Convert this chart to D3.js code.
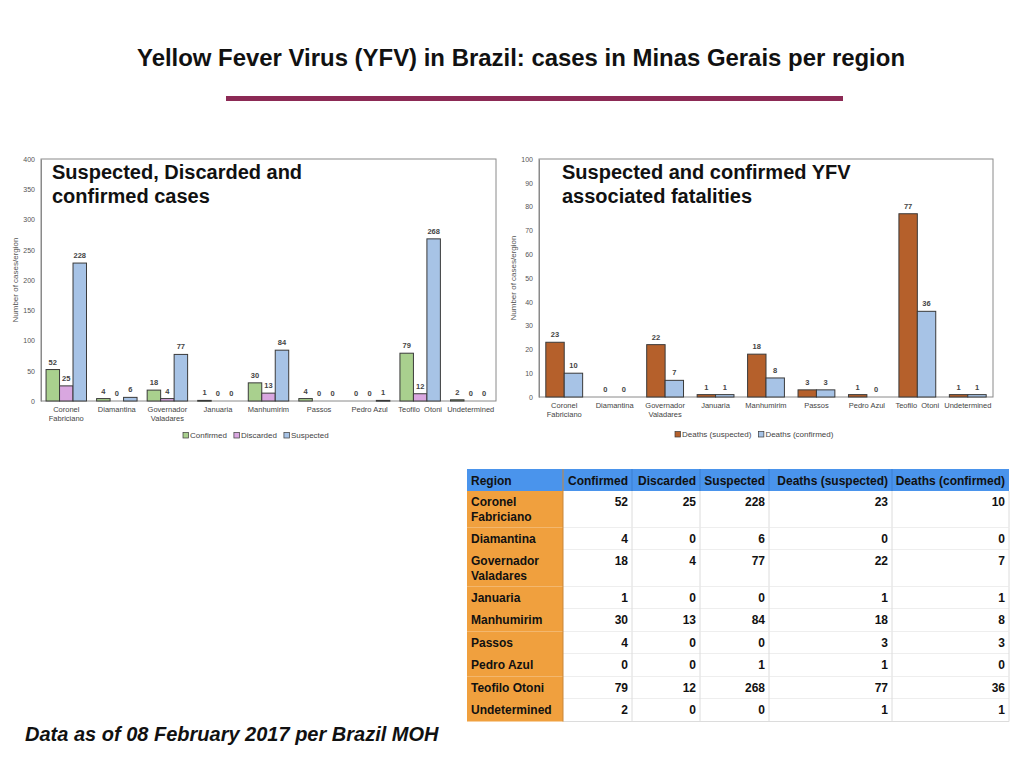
<!DOCTYPE html>
<html>
<head>
<meta charset="utf-8">
<script src="https://cdn.jsdelivr.net/npm/d3@7"></script>
<style>
  body { margin: 0; background: #fff; }
  svg { display: block; font-family: 'Liberation Sans', Arial, sans-serif; }
</style>
</head>
<body>
<div id="chart"></div>
<script>
// data
const regions = ['Coronel Fabriciano', 'Diamantina', 'Governador Valadares', 'Januaria',
  'Manhumirim', 'Passos', 'Pedro Azul', 'Teofilo Otoni', 'Undetermined']
const axisLabels = [['Coronel', 'Fabriciano'], ['Diamantina'], ['Governador', 'Valadares'], ['Januaria'],
  ['Manhumirim'], ['Passos'], ['Pedro Azul'], ['Teofilo  Otoni'], ['Undetermined']]
const confirmed = [52, 4, 18, 1, 30, 4, 0, 79, 2]
const discarded = [25, 0, 4, 0, 13, 0, 0, 12, 0]
const suspected = [228, 6, 77, 0, 84, 0, 1, 268, 0]
const deathsSuspected = [23, 0, 22, 1, 18, 3, 1, 77, 1]
const deathsConfirmed = [10, 0, 7, 1, 8, 3, 0, 36, 1]
const casesTicks = [0, 50, 100, 150, 200, 250, 300, 350, 400]
const deathTicks = [0, 10, 20, 30, 40, 50, 60, 70, 80, 90, 100]

const width = 1024
const height = 768

const svg = d3.select('#chart').append('svg')
  .attr('width', width)
  .attr('height', height)

// slide title + rule
svg.append('text')
  .attr('x', 137).attr('y', 66)
  .attr('textLength', 768).attr('lengthAdjust', 'spacingAndGlyphs')
  .style('font-size', '24px').style('font-weight', 'bold').style('fill', '#111')
  .text('Yellow Fever Virus (YFV) in Brazil: cases in Minas Gerais per region')

svg.append('rect')
  .attr('x', 226).attr('y', 96).attr('width', 617).attr('height', 5)
  .style('fill', '#8c2a55')

function drawBarChart (opts) {
  const g = svg.append('g')
  const x0 = d3.scaleBand().domain(regions).range([opts.left, opts.right])
    .paddingInner(opts.padding).paddingOuter(opts.padding / 2)
  const x1 = d3.scaleBand().domain(opts.series.map(s => s.name)).range([0, x0.bandwidth()])
  const y = d3.scaleLinear().domain([0, opts.max]).range([opts.bottom, opts.top])

  // frame
  g.append('rect')
    .attr('x', opts.left).attr('y', opts.top)
    .attr('width', opts.right - opts.left).attr('height', opts.bottom - opts.top)
    .style('fill', 'none').style('stroke', '#8a8a8a').style('stroke-width', 1)

  // y axis
  const yAxis = g.append('g')
    .attr('transform', `translate(${opts.left},0)`)
    .call(d3.axisLeft(y).tickValues(opts.ticks).tickSize(0).tickPadding(6))
  yAxis.select('.domain').style('stroke', '#8a8a8a')
  yAxis.selectAll('text').style('font-size', '7px').style('fill', '#555').style('font-family', 'Liberation Sans, Arial, sans-serif')

  g.append('text')
    .attr('transform', `translate(${opts.left - 23},${(opts.top + opts.bottom) / 2}) rotate(-90)`)
    .attr('text-anchor', 'middle')
    .style('font-size', '8px').style('fill', '#555')
    .text('Number of cases/ergion')

  // bars
  opts.series.forEach(s => {
    const items = regions.map((r, i) => ({ region: r, value: s.values[i] }))
    g.selectAll(null).data(items.filter(d => d.value > 0)).enter()
      .append('rect')
      .attr('x', d => x0(d.region) + x1(s.name))
      .attr('y', d => y(d.value))
      .attr('width', x1.bandwidth())
      .attr('height', d => Math.max(0.8, y(0) - y(d.value)))
      .style('fill', s.color)
      .style('stroke', '#3a3a3a').style('stroke-width', 1)

    g.selectAll(null).data(items).enter()
      .append('text')
      .attr('x', d => x0(d.region) + x1(s.name) + x1.bandwidth() / 2)
      .attr('y', d => y(d.value) - 5)
      .attr('text-anchor', 'middle')
      .style('font-size', '7.5px').style('font-weight', 'bold').style('fill', '#444')
      .text(d => d.value)
  })

  // x labels
  const lab = g.selectAll(null).data(regions).enter()
    .append('text')
    .attr('x', d => x0(d) + x0.bandwidth() / 2)
    .attr('y', opts.bottom + 11)
    .attr('text-anchor', 'middle')
    .style('font-size', '7.5px').style('fill', '#444')
  lab.each(function (d, i) {
    d3.select(this).selectAll('tspan').data(axisLabels[i]).enter()
      .append('tspan')
      .attr('x', x0(d) + x0.bandwidth() / 2)
      .attr('dy', (t, j) => j === 0 ? 0 : 9)
      .style('white-space', 'pre')
      .text(t => t)
  })

  // overlay title
  const t = g.append('text')
    .attr('x', opts.titleX).attr('y', opts.top + 20)
    .style('font-size', '20px').style('font-weight', 'bold').style('fill', '#111')
  opts.title.forEach((line, i) => {
    t.append('tspan').attr('x', opts.titleX).attr('dy', i === 0 ? 0 : 24).text(line)
  })

  // legend
  let lx = opts.legendX
  opts.series.forEach(s => {
    g.append('rect')
      .attr('x', lx).attr('y', opts.legendY - 5.5)
      .attr('width', 5.5).attr('height', 5.5)
      .style('fill', s.color).style('stroke', '#3a3a3a').style('stroke-width', 0.7)
    const txt = g.append('text')
      .attr('x', lx + 7).attr('y', opts.legendY)
      .style('font-size', '8px').style('fill', '#444')
      .text(s.name)
    lx += txt.node().getComputedTextLength() + 14
  })
}

drawBarChart({
  left: 41, right: 496, top: 159, bottom: 401,
  max: 400, ticks: casesTicks, padding: 0.2,
  series: [
    { name: 'Confirmed', values: confirmed, color: '#a9d08e' },
    { name: 'Discarded', values: discarded, color: '#d9a7e0' },
    { name: 'Suspected', values: suspected, color: '#a7c3e6' }
  ],
  title: ['Suspected, Discarded and', 'confirmed cases'],
  titleX: 52,
  legendX: 183, legendY: 438
})

drawBarChart({
  left: 539, right: 993, top: 159, bottom: 397,
  max: 100, ticks: deathTicks, padding: 0.27,
  series: [
    { name: 'Deaths (suspected)', values: deathsSuspected, color: '#b5602b' },
    { name: 'Deaths (confirmed)', values: deathsConfirmed, color: '#a7c3e6' }
  ],
  title: ['Suspected and confirmed YFV', 'associated fatalities'],
  titleX: 562,
  legendX: 675, legendY: 437
})

// summary table
const tableCols = ['Region', 'Confirmed', 'Discarded', 'Suspected', 'Deaths (suspected)', 'Deaths (confirmed)']
const colEdges = [467, 563, 632, 700, 769, 892, 1009]
const tableRows = regions.map((r, i) => ({
  label: axisLabels[i].length > 1 ? axisLabels[i] : [r],
  values: [confirmed[i], discarded[i], suspected[i], deathsSuspected[i], deathsConfirmed[i]]
}))
const headerTop = 469
const headerH = 22
const tg = svg.append('g').style('font-size', '12px').style('font-weight', 'bold')

tg.append('rect')
  .attr('x', colEdges[0]).attr('y', headerTop)
  .attr('width', colEdges[6] - colEdges[0]).attr('height', headerH)
  .style('fill', '#4a94ec')
tableCols.forEach((c, j) => {
  if (j > 1) {
    tg.append('line')
      .attr('x1', colEdges[j]).attr('x2', colEdges[j])
      .attr('y1', headerTop).attr('y2', headerTop + headerH)
      .style('stroke', '#3a7fd0').style('stroke-width', 1)
  }
  tg.append('text')
    .attr('x', j === 0 ? colEdges[0] + 4 : colEdges[j + 1] - 4)
    .attr('y', headerTop + 15.5)
    .attr('text-anchor', j === 0 ? 'start' : 'end')
    .style('fill', '#111')
    .text(c)
})

let rowY = headerTop + headerH
tableRows.forEach(row => {
  const h = row.label.length > 1 ? 36.5 : 22.5
  tg.append('rect')
    .attr('x', colEdges[0]).attr('y', rowY)
    .attr('width', colEdges[1] - colEdges[0]).attr('height', h)
    .style('fill', '#f0a03e')
  tg.append('rect')
    .attr('x', colEdges[1]).attr('y', rowY)
    .attr('width', colEdges[6] - colEdges[1]).attr('height', h)
    .style('fill', '#fff')
  tg.append('line')
    .attr('x1', colEdges[1]).attr('x2', colEdges[6])
    .attr('y1', rowY + h).attr('y2', rowY + h)
    .style('stroke', '#dcdcdc')
  colEdges.slice(2).forEach(cx => {
    tg.append('line')
      .attr('x1', cx).attr('x2', cx)
      .attr('y1', rowY).attr('y2', rowY + h)
      .style('stroke', '#dcdcdc')
  })
  row.label.forEach((l, k) => {
    tg.append('text')
      .attr('x', colEdges[0] + 4).attr('y', rowY + 15 + k * 15)
      .style('fill', '#111')
      .text(l)
  })
  row.values.forEach((v, j) => {
    tg.append('text')
      .attr('x', colEdges[j + 2] - 4).attr('y', rowY + 15)
      .attr('text-anchor', 'end')
      .style('fill', '#111')
      .text(v)
  })
  rowY += h
})
// divider between region column and values
tg.append('line')
  .attr('x1', colEdges[1]).attr('x2', colEdges[1])
  .attr('y1', headerTop).attr('y2', rowY)
  .style('stroke', '#c9873a').style('stroke-width', 1)

// footnote
svg.append('text')
  .attr('x', 25).attr('y', 741)
  .style('font-size', '20px').style('font-weight', 'bold').style('font-style', 'italic').style('fill', '#111')
  .text('Data as of 08 February 2017 per Brazil MOH')
</script>
</body>
</html>
